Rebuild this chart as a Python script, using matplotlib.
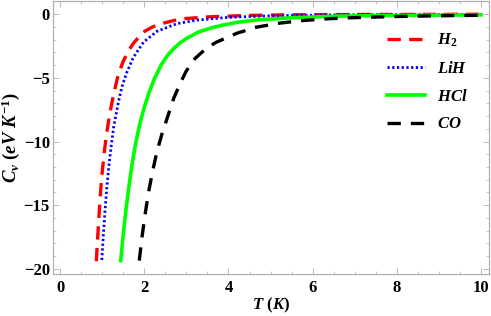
import matplotlib
matplotlib.use("Agg")
import matplotlib.pyplot as plt
from matplotlib.ticker import MultipleLocator

plt.rcParams["font.family"] = "Liberation Serif"
plt.rcParams["font.weight"] = "bold"
plt.rcParams["mathtext.fontset"] = "custom"
plt.rcParams["mathtext.it"] = "Liberation Serif:italic:bold"
plt.rcParams["mathtext.rm"] = "Liberation Serif:bold"
plt.rcParams["mathtext.bf"] = "Liberation Serif:bold"

# values
T_h2 = [0.86, 0.89, 0.92, 0.96, 1.0, 1.05, 1.1, 1.17, 1.27, 1.385, 1.5, 1.62, 1.75, 1.98, 2.2, 2.41, 2.7, 2.97, 3.6, 4.5, 5.5, 7.0, 8.5, 10.0]
cv_h2 = [-19.4, -17.7, -16.0, -14.0, -12.4, -10.8, -9.5, -8.0, -6.3, -4.7, -3.7, -2.9, -2.25, -1.4, -1.0, -0.75, -0.5, -0.35, -0.2, -0.1, -0.05, -0.03, -0.02, -0.01]

T_lih = [0.99, 1.03, 1.07, 1.11, 1.15, 1.19, 1.27, 1.385, 1.47, 1.58, 1.74, 1.98, 2.3, 2.77, 3.25, 4.0, 5.0, 6.5, 8.0, 10.0]
cv_lih = [-19.3, -17.2, -15.3, -13.6, -12.2, -11.0, -8.9, -6.9, -5.7, -4.6, -3.4, -2.2, -1.35, -0.75, -0.47, -0.25, -0.13, -0.06, -0.03, -0.015]

T_hcl = [1.44, 1.5, 1.56, 1.62, 1.7, 1.78, 1.88, 2.0, 2.12, 2.25, 2.4, 2.55, 2.7, 2.85, 3.01, 3.29, 3.6, 3.87, 4.25, 4.67, 5.46, 6.57, 8.0, 10.0]
cv_hcl = [-19.35, -17.3, -15.5, -13.9, -12.0, -10.4, -8.8, -7.3, -6.1, -5.0, -4.0, -3.25, -2.7, -2.25, -1.9, -1.4, -1.07, -0.86, -0.62, -0.46, -0.29, -0.16, -0.1, -0.06]

T_co = [1.88, 1.95, 2.02, 2.1, 2.2, 2.3, 2.42, 2.55, 2.7, 2.85, 3.0, 3.2, 3.45, 3.7, 4.2, 4.67, 5.23, 5.78, 6.33, 6.85, 7.92, 9.0, 10.0]
cv_co = [-19.35, -17.4, -15.7, -14.0, -12.3, -10.8, -9.4, -8.1, -6.6, -5.45, -4.45, -3.5, -2.75, -2.22, -1.5, -1.02, -0.7, -0.5, -0.37, -0.29, -0.19, -0.13, -0.09]

labels = [r"$H_2$", r"$LiH$", r"$HCl$", r"$CO$"]

fig = plt.figure(figsize=(4.91, 3.16), dpi=100)
ax = fig.add_axes([0.107, 0.133, 0.889, 0.865])

ax.plot(T_h2, cv_h2, color="#ff0000", lw=2.4, dashes=(4, 2.5), label=labels[0])
ax.plot(T_lih, cv_lih, color="#0000ff", lw=2.0, dashes=(0.8, 0.9), label=labels[1])
ax.plot(T_hcl, cv_hcl, color="#00ff00", lw=2.6, label=labels[2])
ax.plot(T_co, cv_co, color="black", lw=2.4, dashes=(4, 3), label=labels[3])

ax.set_xlim(-0.18, 10.19)
ax.set_ylim(-20.4, 1.06)
ax.xaxis.set_major_locator(MultipleLocator(2))
ax.xaxis.set_minor_locator(MultipleLocator(0.5))
ax.yaxis.set_major_locator(MultipleLocator(5))
ax.yaxis.set_minor_locator(MultipleLocator(1))
ax.tick_params(which="both", direction="in", top=True, right=True, color="#b0b0b0", labelsize=12)
ax.tick_params(which="major", length=4, width=0.6)
ax.tick_params(which="minor", length=2, width=0.5)
ax.tick_params(axis="x", pad=4)
ax.tick_params(axis="y", pad=2)
for s in ax.spines.values():
    s.set_color("#b0b0b0")
    s.set_linewidth(0.9)

ax.set_xlabel(r"$T\ (K)$", fontsize=12, labelpad=0)
ax.set_ylabel(r"$C_v\ (eV\ K^{-1})$", fontsize=13.5, labelpad=1)

ax.legend(loc="upper right", bbox_to_anchor=(0.985, 0.94), frameon=False, fontsize=12,
          handlelength=2.3, handletextpad=0.7, labelspacing=0.7)

fig.savefig("out.png", dpi=100)
